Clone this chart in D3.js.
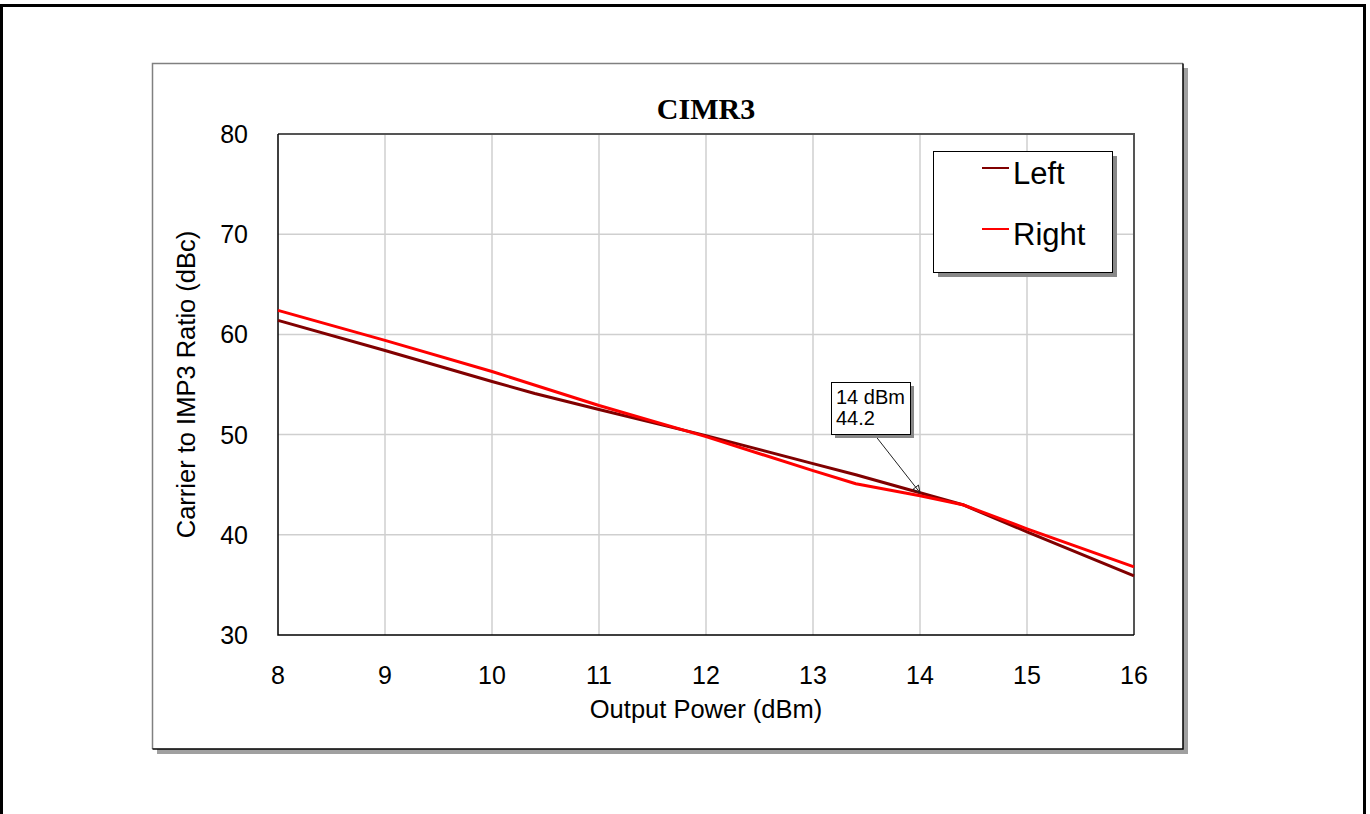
<!DOCTYPE html>
<html>
<head>
<meta charset="utf-8">
<script src="https://cdn.jsdelivr.net/npm/d3@7"></script>
<style>
  body { margin: 0; background: #fff; }
  svg { display: block; }
</style>
</head>
<body>
<div id="chart"></div>
<script>
// data
const xTicks = [8, 9, 10, 11, 12, 13, 14, 15, 16];
const yTicks = [30, 40, 50, 60, 70, 80];
const leftX = [8, 9, 10, 10.4, 11, 12, 13, 13.4, 14, 14.4, 15, 16];
const leftY = [61.4, 58.4, 55.3, 54.1, 52.5, 49.9, 47.1, 46.0, 44.2, 43.0, 40.3, 35.9];
const rightX = [8, 9, 10, 11, 12, 13, 13.4, 14, 14.4, 15, 16];
const rightY = [62.4, 59.4, 56.3, 52.9, 49.8, 46.4, 45.1, 43.9, 43.0, 40.6, 36.8];
const seriesNames = ["Left", "Right"];
const seriesColors = ["#800000", "#ff0000"];
const marker = {x: 14, y: 44.2, label: ["14 dBm", "44.2"]};

const width = 1370, height = 814;
const plot = {left: 278, top: 134, right: 1134, bottom: 635};
const font = "Arial, 'Liberation Sans', sans-serif";

const svg = d3.select("#chart").append("svg")
    .attr("width", width)
    .attr("height", height);

// outer frame (bottom edge runs off the page)
svg.append("rect")
    .attr("x", 1.5).attr("y", 5.5)
    .attr("width", 1363).attr("height", 900)
    .attr("fill", "none").attr("stroke", "#000").attr("stroke-width", 3);

// chart panel with drop shadow
svg.append("rect")
    .attr("x", 157).attr("y", 68)
    .attr("width", 1031).attr("height", 686)
    .attr("fill", "#a0a0a0");
svg.append("rect")
    .attr("x", 152).attr("y", 63)
    .attr("width", 1031).attr("height", 686)
    .attr("fill", "#fff");
svg.append("path")
    .attr("d", "M152.5,749V63.5H1183")
    .attr("fill", "none").attr("stroke", "#808080").attr("stroke-width", 1.5);
svg.append("path")
    .attr("d", "M1183,63.5V749H152.5")
    .attr("fill", "none").attr("stroke", "#000").attr("stroke-width", 1.5);

const x = d3.scaleLinear().domain([8, 16]).range([plot.left, plot.right]);
const y = d3.scaleLinear().domain([30, 80]).range([plot.bottom, plot.top]);

// grid
const grid = svg.append("g");
grid.selectAll(".gx")
    .data(xTicks.slice(1, -1))
    .join("line")
        .attr("x1", d => x(d)).attr("x2", d => x(d))
        .attr("y1", plot.top).attr("y2", plot.bottom)
        .attr("stroke", "#cfcfcf").attr("stroke-width", 1.5);
grid.selectAll(".gy")
    .data(yTicks.slice(1, -1))
    .join("line")
        .attr("x1", plot.left).attr("x2", plot.right)
        .attr("y1", d => y(d)).attr("y2", d => y(d))
        .attr("stroke", "#cfcfcf").attr("stroke-width", 1.5);

// plot frame
svg.append("path")
    .attr("d", `M${plot.left},${plot.top}H${plot.right}V${plot.bottom}`)
    .attr("fill", "none").attr("stroke", "#555").attr("stroke-width", 2);
svg.append("path")
    .attr("d", `M${plot.left},${plot.top}V${plot.bottom}H${plot.right}`)
    .attr("fill", "none").attr("stroke", "#000").attr("stroke-width", 1.5);

// tick labels
svg.append("g").selectAll("text")
    .data(xTicks)
    .join("text")
        .attr("x", d => x(d))
        .attr("y", 684)
        .attr("text-anchor", "middle")
        .style("font-family", font).style("font-size", "25px")
        .text(d => d);
svg.append("g").selectAll("text")
    .data(yTicks)
    .join("text")
        .attr("x", 248)
        .attr("y", d => y(d) + 9)
        .attr("text-anchor", "end")
        .style("font-family", font).style("font-size", "25px")
        .text(d => d);

// titles
svg.append("text")
    .attr("x", (plot.left + plot.right) / 2).attr("y", 119)
    .attr("text-anchor", "middle")
    .style("font-family", "'Times New Roman', 'Liberation Serif', serif")
    .style("font-size", "30px").style("font-weight", "bold")
    .text("CIMR3");
svg.append("text")
    .attr("x", (plot.left + plot.right) / 2).attr("y", 718)
    .attr("text-anchor", "middle")
    .style("font-family", font).style("font-size", "25.5px")
    .text("Output Power (dBm)");
svg.append("text")
    .attr("transform", `translate(195,${(plot.top + plot.bottom) / 2}) rotate(-90)`)
    .attr("text-anchor", "middle")
    .style("font-family", font).style("font-size", "25.5px")
    .text("Carrier to IMP3 Ratio (dBc)");

// series
const line = d3.line().x(d => x(d[0])).y(d => y(d[1]));
const series = [
    d3.zip(leftX, leftY),
    d3.zip(rightX, rightY)
];
svg.append("g").selectAll("path")
    .data(series)
    .join("path")
        .attr("d", line)
        .attr("fill", "none")
        .attr("stroke", (d, i) => seriesColors[i])
        .attr("stroke-width", 3)
        .attr("stroke-linejoin", "round");

// marker callout
const bx = 831, by = 382, bw = 79, bh = 52;
const mx = x(marker.x), my = y(marker.y);
svg.append("line")
    .attr("x1", 874).attr("y1", by + bh)
    .attr("x2", mx).attr("y2", my)
    .attr("stroke", "#222").attr("stroke-width", 1);
const ang = Math.atan2(my - (by + bh), mx - 874);
const ah = 7, aw = 3.5;
const ax = mx - ah * Math.cos(ang), ay = my - ah * Math.sin(ang);
svg.append("path")
    .attr("d", `M${mx},${my}L${ax + aw * Math.sin(ang)},${ay - aw * Math.cos(ang)}L${ax - aw * Math.sin(ang)},${ay + aw * Math.cos(ang)}Z`)
    .attr("fill", "none").attr("stroke", "#222").attr("stroke-width", 1);
svg.append("rect")
    .attr("x", bx + 4).attr("y", by + 4).attr("width", bw).attr("height", bh)
    .attr("fill", "#888");
svg.append("rect")
    .attr("x", bx + 0.5).attr("y", by + 0.5).attr("width", bw).attr("height", bh)
    .attr("fill", "#fff").attr("stroke", "#000").attr("stroke-width", 1);
svg.append("g").selectAll("text")
    .data(marker.label)
    .join("text")
        .attr("x", bx + 5)
        .attr("y", (d, i) => 404 + i * 21)
        .style("font-family", font).style("font-size", "20px")
        .text(d => d);

// legend
const lg = {x: 933, y: 151, w: 179, h: 121};
svg.append("rect")
    .attr("x", lg.x + 5).attr("y", lg.y + 5).attr("width", lg.w).attr("height", lg.h)
    .attr("fill", "#888");
svg.append("rect")
    .attr("x", lg.x + 0.5).attr("y", lg.y + 0.5).attr("width", lg.w).attr("height", lg.h)
    .attr("fill", "#fff").attr("stroke", "#000").attr("stroke-width", 1);
const items = svg.append("g").selectAll("g")
    .data(seriesNames)
    .join("g")
        .attr("transform", (d, i) => `translate(0,${168 + i * 61})`);
items.append("line")
    .attr("x1", 982).attr("x2", 1009)
    .attr("stroke", (d, i) => seriesColors[i]).attr("stroke-width", 2);
items.append("text")
    .attr("x", 1013).attr("y", 16)
    .style("font-family", font).style("font-size", "31px")
    .text(d => d);
</script>
</body>
</html>
